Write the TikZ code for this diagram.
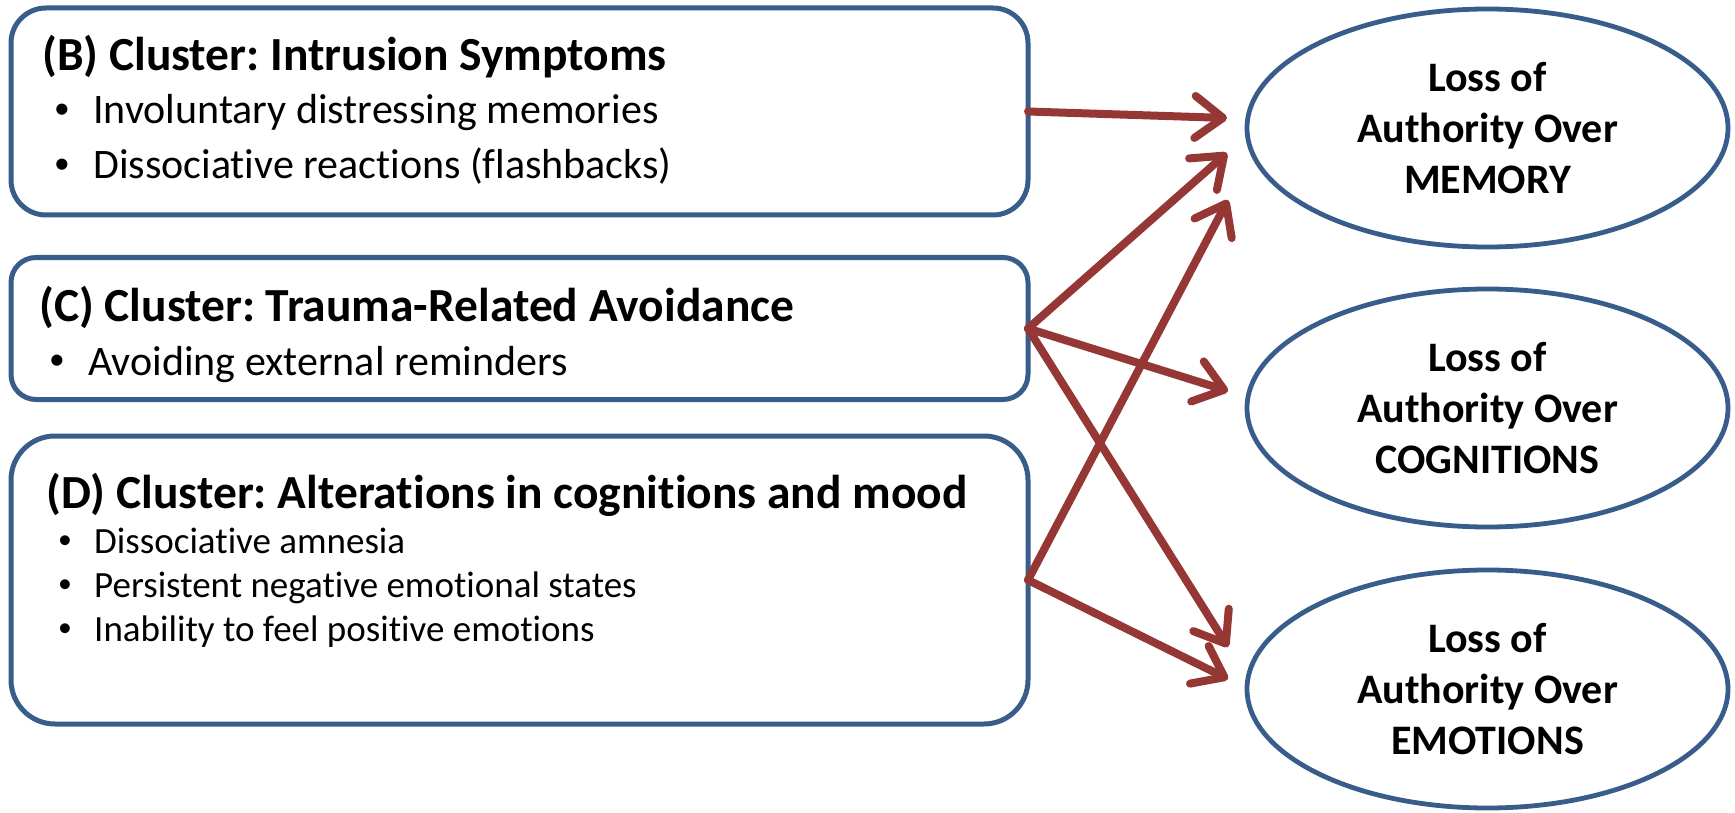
\documentclass[tikz,border=0pt]{standalone}
\usepackage{fontspec}
\setmainfont{Carlito}[Ligatures=NoCommon]
\usetikzlibrary{arrows.meta,shapes.geometric}
\definecolor{boxblue}{RGB}{56,93,138}
\definecolor{arrred}{RGB}{149,55,53}
\newcommand{\blt}{\raisebox{0.12em}{\scalebox{0.75}{\textbullet}}}
\tikzset{
  clusterbox/.style={draw=boxblue, line width=5pt, fill=white, outer sep=0pt, inner sep=0pt, minimum width=1017pt},
  outcome/.style={ellipse, draw=boxblue, line width=4.8pt, fill=white, outer sep=0pt, inner sep=0pt,
    minimum width=481pt, minimum height=238pt, align=center,
    font=\bfseries\fontsize{42pt}{51pt}\selectfont},
  title/.style={anchor=base west, inner sep=0pt, font=\bfseries\fontsize{47.5pt}{56pt}\selectfont},
  bulbig/.style={anchor=base west, inner sep=0pt, font=\fontsize{42pt}{50pt}\selectfont},
  bulsmall/.style={anchor=base west, inner sep=0pt, font=\fontsize{37pt}{44pt}\selectfont},
  link/.style={draw=arrred, line width=8pt, line cap=round, line join=round,
    -{Straight Barb[length=28pt,width=42pt,round]}}
}
\frenchspacing
\begin{document}
\begin{tikzpicture}[x=1pt,y=-1pt]
\useasboundingbox (0,0) rectangle (1735,813);
% boxes
\node[clusterbox, minimum height=207pt, rounded corners=35pt] (B) at (519.5,111.5) {};
\node[clusterbox, minimum height=142pt, rounded corners=25pt] (C) at (519.5,328.5) {};
\node[clusterbox, minimum height=288pt, rounded corners=44pt] (D) at (519.5,580) {};
% box texts
\node[title] (Bt) at (42,71) {(B) Cluster: Intrusion Symptoms};
\node[bulbig] (B1) at (54,124) {\makebox[39pt][l]{\blt}Involuntary distressing memories};
\node[bulbig] (B2) at (54,179) {\makebox[39pt][l]{\blt}Dissociative reactions (flashbacks)};
\node[title] (Ct) at (39,321) {(C) Cluster: Trauma-Related Avoidance};
\node[bulbig] (C1) at (49,375) {\makebox[39pt][l]{\blt}Avoiding external reminders};
\node[title] (Dt) at (46,508) {(D) Cluster: Alterations in cognitions and mood};
\node[bulsmall] (D1) at (58,553) {\makebox[36pt][l]{\blt}Dissociative amnesia};
\node[bulsmall] (D2) at (58,597) {\makebox[36pt][l]{\blt}Persistent negative emotional states};
\node[bulsmall] (D3) at (58,641) {\makebox[36pt][l]{\blt}Inability to feel positive emotions};
% outcomes
\node[outcome] (M) at (1487.5,128) {Loss of\\Authority Over\\MEMORY};
\node[outcome] (G) at (1487.5,408) {Loss of\\Authority Over\\COGNITIONS};
\node[outcome] (E) at (1487.5,689) {Loss of\\Authority Over\\EMOTIONS};
% arrow targets
\coordinate (m1) at (1227,118);
\coordinate (m2) at (1227,153);
\coordinate (m3) at (1228,200);
\coordinate (g1) at (1228,391);
\coordinate (e1) at (1228,647);
\coordinate (e2) at (1228,679);
% arrows
\draw[link] (B.east) -- (m1);
\draw[link] (C.east) -- (m2);
\draw[link] (D.east) -- (m3);
\draw[link] (C.east) -- (g1);
\draw[link] (C.east) -- (e1);
\draw[link] (D.east) -- (e2);
\end{tikzpicture}
\end{document}
